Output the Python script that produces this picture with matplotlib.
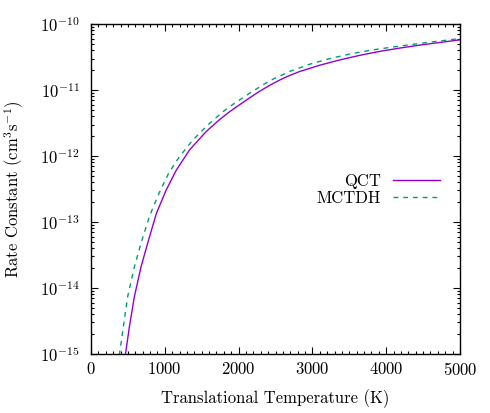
import numpy as np
import matplotlib
matplotlib.use("Agg")
import matplotlib.pyplot as plt
from matplotlib.ticker import FixedLocator, MultipleLocator, NullFormatter

plt.rcParams['font.family'] = 'serif'
plt.rcParams['font.serif'] = ['cmr10', 'DejaVu Serif']
plt.rcParams['mathtext.fontset'] = 'cm'
plt.rcParams['axes.formatter.use_mathtext'] = True
plt.rcParams['axes.unicode_minus'] = False

# temperatures (K) and log10 of rate constants
qct_T = [465, 520, 588, 678, 768, 886, 1017, 1153, 1334, 1560, 1740, 1877,
         2012, 2148, 2284, 2420, 2555, 2691, 2827, 3098, 3370, 3641, 3912,
         4183, 4455, 4726, 5000]
qct_logk = [-15.02, -14.59, -14.13, -13.68, -13.32, -12.87, -12.52, -12.22,
            -11.91, -11.63, -11.45, -11.33, -11.225, -11.12, -11.02, -10.93,
            -10.85, -10.78, -10.72, -10.625, -10.545, -10.475, -10.415,
            -10.365, -10.32, -10.28, -10.24]

mctdh_T = [384, 438, 497, 588, 678, 791, 859, 936, 1053, 1198, 1379, 1583,
           1786, 1921, 2148, 2420, 2691, 2962, 3234, 3505, 3776, 4047, 4318,
           4590, 4861, 5000]
mctdh_logk = [-15.02, -14.59, -14.13, -13.68, -13.32, -12.92, -12.73, -12.53,
              -12.26, -12.01, -11.76, -11.53, -11.33, -11.22, -11.05, -10.86,
              -10.72, -10.61, -10.525, -10.455, -10.40, -10.355, -10.315,
              -10.275, -10.24, -10.22]

y_exps = [-15, -14, -13, -12, -11, -10]

fig = plt.figure(figsize=(4.9, 4.13), dpi=100)
ax = fig.add_axes([0.1857, 0.1429, 0.9388 - 0.1857, 0.9419 - 0.1429])

ax.plot(qct_T, 10.0 ** np.array(qct_logk), color='#9400d3', lw=1.0, label='QCT')
ax.plot(mctdh_T, 10.0 ** np.array(mctdh_logk), color='#009e73', lw=1.0,
        dashes=(3.5, 3.5), label='MCTDH')

ax.set_yscale('log')
ax.set_xlim(0, 5000)
ax.set_ylim(1e-15, 1e-10)
ax.xaxis.set_major_locator(MultipleLocator(1000))
ax.xaxis.set_minor_locator(MultipleLocator(100))

majors = [10.0 ** e for e in y_exps]
minors = [m * 10.0 ** e for e in y_exps[:-1] for m in range(2, 10)]
ax.yaxis.set_major_locator(FixedLocator(majors))
ax.yaxis.set_minor_locator(FixedLocator(minors))
ax.set_yticklabels([r'$10^{%d}$' % e for e in y_exps])
ax.yaxis.set_minor_formatter(NullFormatter())

ax.tick_params(which='both', direction='in', top=True, right=True, labelsize=12)
ax.tick_params(which='major', length=5, width=0.8)
ax.tick_params(which='minor', length=2.5, width=0.8)
ax.tick_params(axis='y', which='major', pad=8)
ax.tick_params(axis='x', which='major', pad=5)
for s in ax.spines.values():
    s.set_linewidth(1.0)

ax.set_xlabel('Translational Temperature (K)', fontsize=12, labelpad=8)
ax.set_ylabel(r'Rate Constant (cm$^3$s$^{-1}$)', fontsize=12, labelpad=10)

ax.legend(loc='center right', bbox_to_anchor=(0.946, 0.497), frameon=False,
          markerfirst=False, fontsize=12, handlelength=2.8, handletextpad=0.75,
          labelspacing=0.08, borderpad=0, borderaxespad=0)

fig.savefig('out.png', dpi=100)
